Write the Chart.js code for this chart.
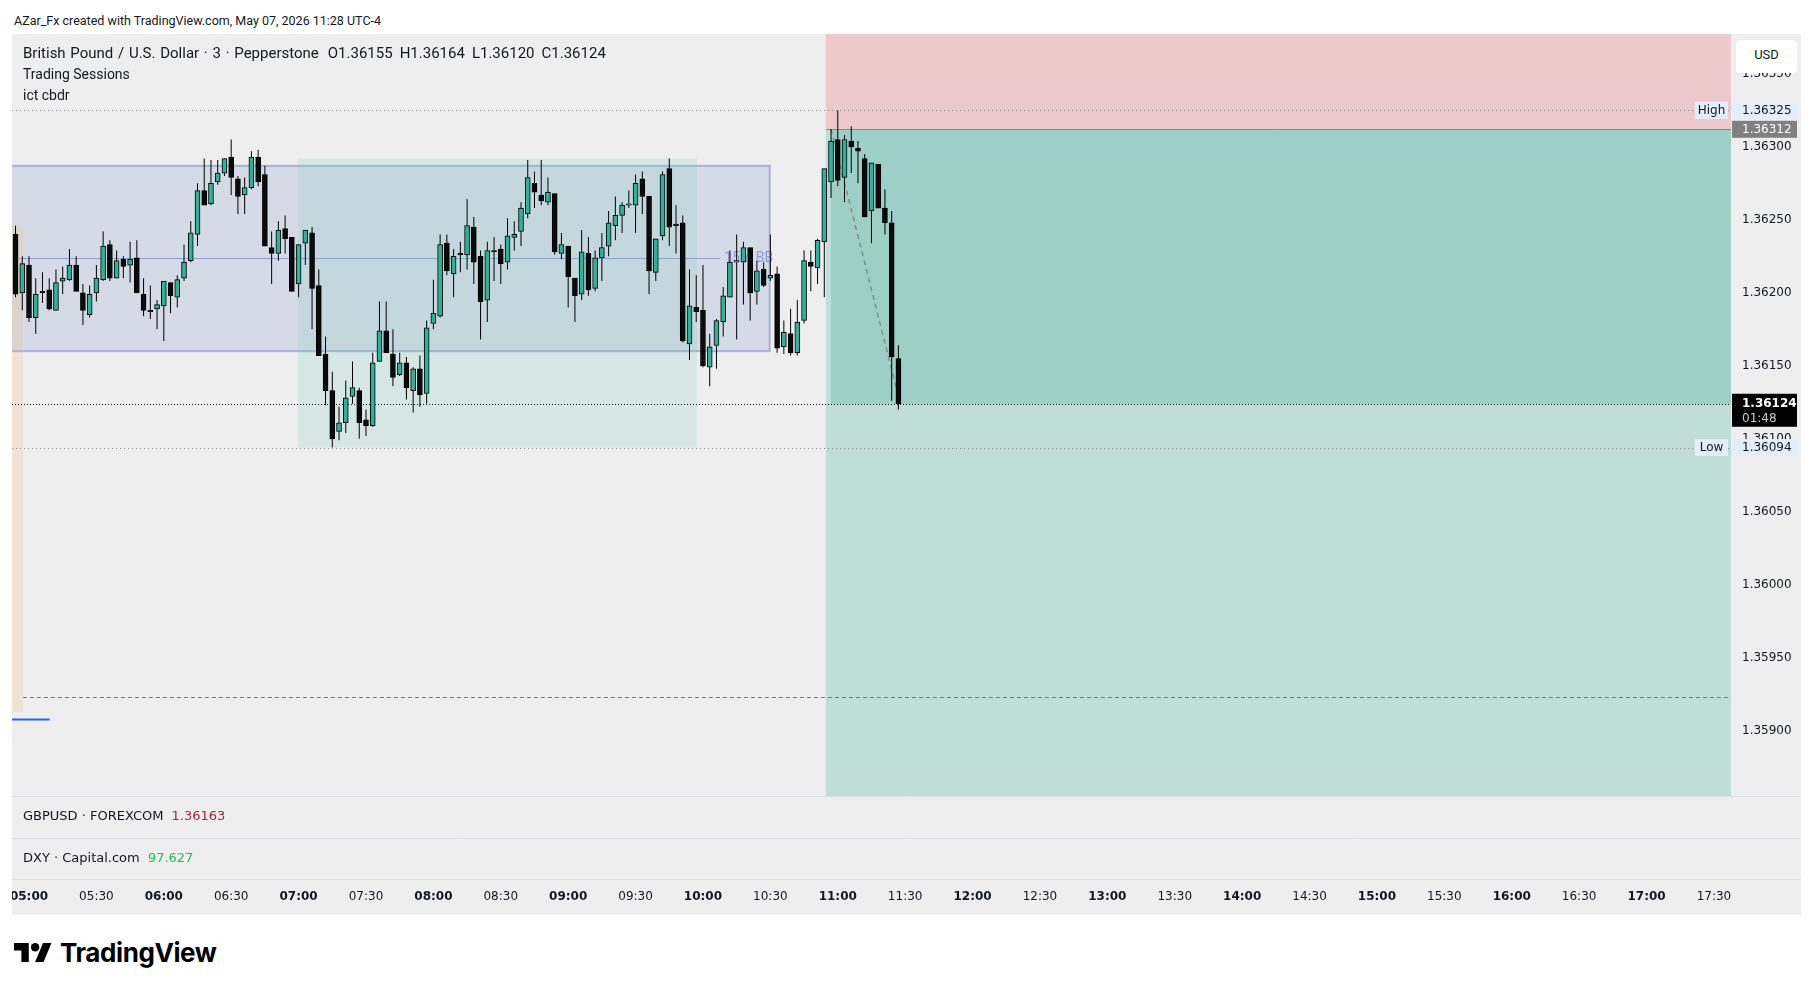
<!DOCTYPE html>
<html lang="en">
<head>
<meta charset="UTF-8">
<title>GBPUSD 3m - TradingView snapshot</title>
<script src="https://cdn.jsdelivr.net/npm/chart.js@4.4.1/dist/chart.umd.min.js"></script>
<style>
  html, body { margin: 0; padding: 0; background: #fff; }
  body { width: 1815px; height: 991px; position: relative; overflow: hidden;
         font-family: Roboto, "Noto Sans", sans-serif; color: #131722; }
  .note { position: absolute; left: 14px; top: 12px; font-size: 12.5px; line-height: 18px; }
  #panel { position: absolute; left: 12px; top: 34px; width: 1789px; height: 881px; background: #eeeeee; }
  #chartBox { position: absolute; left: 0; top: 0; width: 1789px; height: 881px; }
  .legend { position: absolute; left: 11px; top: 9px; font-size: 14px; line-height: 21px; }
  .legend .title { font-size: 15px; word-spacing: 1px; }
  .legend .ohlc { margin-left: 9px; }
  .legend .ohlc span { margin-right: 7px; }
  .usd { position: absolute; left: 1724px; top: 6px; width: 61px; height: 33px; background: #fff;
         border-radius: 4px; font-size: 13px; line-height: 29px; text-align: center; }
  .pane { position: absolute; left: 11px; font-family: "DejaVu Sans", sans-serif; font-size: 13px; line-height: 18px; }
  .pane span { margin-left: 4px; }
  .brand { position: absolute; left: 14px; top: 937px; height: 30px; display: flex; align-items: center; }
  .brand span { margin-left: 8px; font-family: Inter, Roboto, sans-serif; font-size: 26px; font-weight: 700; color: #000; letter-spacing: -0.4px; }
</style>
</head>
<body>

<div class="note">AZar_Fx created with TradingView.com, May 07, 2026 11:28 UTC-4</div>

<div id="panel">
    <div id="chartBox"><canvas id="chart"></canvas></div>
    <div class="legend">
        <div class="title">British Pound / U.S. Dollar · 3 · Pepperstone<span class="ohlc"><span>O1.36155</span><span>H1.36164</span><span>L1.36120</span><span>C1.36124</span></span></div>
        <div>Trading Sessions</div>
        <div>ict cbdr</div>
    </div>
    <div class="usd">USD</div>
    <div class="pane" style="top:773px">GBPUSD · FOREXCOM <span style="color:#a3283a">1.36163</span></div>
    <div class="pane" style="top:815px">DXY · Capital.com <span style="color:#1fbf5a">97.627</span></div>
</div>

<div class="brand">
    <svg width="38" height="19" viewBox="0 4 36 18"><path d="M14 22H7V11H0V4h14v18zM28 22h-8l7.5-18h8L28 22z" fill="#000"/><circle cx="20" cy="8" r="4" fill="#000"/></svg>
    <span>TradingView</span>
</div>

<script>
// 3 minute bars, first one at 04:54 (minutes are counted from 05:00)
const firstBarMinute = -6;
const barMinutes = 3;

const opens = [
    1.36240,1.36200,1.36219,1.36183,1.36201,1.36202,1.36188,1.36208,1.36209,1.36219,1.36200,1.36185,
    1.36200,1.36209,1.36233,1.36210,1.36223,1.36219,1.36224,1.36199,1.36188,1.36189,
    1.36191,1.36207,1.36197,1.36210,1.36222,1.36240,1.36270,1.36261,1.36276,1.36282,
    1.36293,1.36278,1.36267,1.36272,1.36293,1.36281,1.36231,1.36227,1.36244,1.36238,
    1.36206,1.36234,1.36241,1.36205,1.36158,1.36133,1.36105,1.36111,1.36129,1.36133,
    1.36113,1.36109,1.36153,1.36174,1.36158,1.36144,1.36152,1.36133,1.36148,1.36131,
    1.36179,1.36184,1.36234,1.36213,1.36227,1.36226,1.36245,1.36225,1.36195,1.36229,
    1.36230,1.36221,1.36238,1.36242,1.36254,1.36275,1.36267,1.36262,1.36268,1.36227,
    1.36232,1.36210,1.36199,1.36227,1.36203,1.36224,1.36232,1.36246,1.36253,1.36260,
    1.36260,1.36278,1.36266,1.36214,1.36239,1.36285,1.36247,1.36248,1.36165,1.36190,
    1.36188,1.36149,1.36164,1.36180,1.36197,1.36221,1.36221,1.36231,1.36201,1.36216,
    1.36210,1.36213,1.36163,1.36172,1.36159,1.36181,1.36221,1.36217,1.36235,1.36276,
    1.36305,1.36279,1.36304,1.36299,1.36292,1.36256,1.36288,1.36258,1.36248,1.36155
];
const highs = [
    1.36246,1.36225,1.36225,1.36210,1.36214,1.36210,1.36216,1.36218,1.36230,1.36225,1.36206,1.36205,
    1.36219,1.36242,1.36236,1.36229,1.36225,1.36235,1.36236,1.36210,1.36205,1.36195,
    1.36208,1.36207,1.36212,1.36233,1.36249,1.36275,1.36292,1.36291,1.36291,1.36292,
    1.36305,1.36280,1.36279,1.36297,1.36298,1.36287,1.36242,1.36249,1.36253,1.36238,
    1.36233,1.36243,1.36245,1.36216,1.36170,1.36146,1.36122,1.36140,1.36153,1.36135,
    1.36120,1.36159,1.36194,1.36194,1.36175,1.36159,1.36156,1.36149,1.36157,1.36181,
    1.36209,1.36240,1.36240,1.36230,1.36235,1.36264,1.36252,1.36229,1.36235,1.36238,
    1.36233,1.36251,1.36249,1.36262,1.36291,1.36283,1.36291,1.36279,1.36268,1.36241,
    1.36232,1.36210,1.36243,1.36238,1.36229,1.36241,1.36256,1.36266,1.36262,1.36270,
    1.36281,1.36283,1.36266,1.36237,1.36283,1.36292,1.36260,1.36253,1.36216,1.36212,
    1.36219,1.36172,1.36182,1.36204,1.36229,1.36240,1.36235,1.36231,1.36222,1.36221,
    1.36240,1.36218,1.36181,1.36189,1.36195,1.36229,1.36229,1.36237,1.36285,1.36312,
    1.36325,1.36308,1.36314,1.36304,1.36295,1.36289,1.36288,1.36271,1.36256,1.36164
];
const lows = [
    1.36197,1.36188,1.36180,1.36172,1.36193,1.36188,1.36188,1.36199,1.36208,1.36201,1.36178,1.36183,
    1.36194,1.36208,1.36208,1.36210,1.36210,1.36207,1.36200,1.36184,1.36182,1.36175,
    1.36167,1.36186,1.36190,1.36208,1.36221,1.36232,1.36260,1.36260,1.36274,1.36280,
    1.36267,1.36254,1.36254,1.36271,1.36273,1.36232,1.36206,1.36222,1.36227,1.36201,
    1.36197,1.36219,1.36175,1.36157,1.36123,1.36094,1.36099,1.36104,1.36124,1.36100,
    1.36102,1.36108,1.36153,1.36159,1.36136,1.36143,1.36127,1.36118,1.36122,1.36124,
    1.36175,1.36183,1.36212,1.36197,1.36214,1.36216,1.36206,1.36168,1.36180,1.36208,
    1.36206,1.36216,1.36229,1.36232,1.36251,1.36258,1.36260,1.36260,1.36226,1.36223,
    1.36190,1.36180,1.36195,1.36198,1.36201,1.36208,1.36225,1.36236,1.36241,1.36258,
    1.36241,1.36254,1.36199,1.36208,1.36236,1.36232,1.36227,1.36166,1.36154,1.36180,
    1.36149,1.36136,1.36148,1.36170,1.36197,1.36168,1.36192,1.36181,1.36192,1.36204,
    1.36208,1.36159,1.36158,1.36157,1.36157,1.36179,1.36201,1.36206,1.36197,1.36265,
    1.36273,1.36262,1.36282,1.36275,1.36252,1.36234,1.36258,1.36240,1.36126,1.36120
];
const closes = [
    1.36199,1.36220,1.36183,1.36199,1.36200,1.36189,1.36207,1.36210,1.36219,1.36201,1.36188,1.36199,
    1.36210,1.36232,1.36210,1.36222,1.36218,1.36223,1.36200,1.36188,1.36187,1.36192,
    1.36208,1.36198,1.36209,1.36221,1.36241,1.36270,1.36260,1.36275,1.36282,1.36292,
    1.36279,1.36266,1.36272,1.36293,1.36276,1.36232,1.36227,1.36243,1.36237,1.36201,
    1.36233,1.36243,1.36203,1.36157,1.36133,1.36100,1.36111,1.36128,1.36135,1.36111,
    1.36109,1.36152,1.36174,1.36159,1.36142,1.36152,1.36135,1.36148,1.36130,1.36176,
    1.36186,1.36233,1.36215,1.36225,1.36226,1.36246,1.36221,1.36194,1.36229,1.36228,
    1.36220,1.36239,1.36240,1.36258,1.36279,1.36269,1.36263,1.36269,1.36228,1.36233,
    1.36211,1.36198,1.36228,1.36202,1.36224,1.36231,1.36248,1.36253,1.36260,1.36261,
    1.36275,1.36266,1.36215,1.36237,1.36281,1.36245,1.36246,1.36167,1.36191,1.36187,
    1.36150,1.36163,1.36181,1.36198,1.36221,1.36222,1.36231,1.36200,1.36215,1.36205,
    1.36212,1.36162,1.36173,1.36159,1.36180,1.36222,1.36218,1.36236,1.36285,1.36304,
    1.36277,1.36305,1.36300,1.36297,1.36252,1.36289,1.36258,1.36248,1.36156,1.36124
];

const timeLabels = ['05:00','05:30','06:00','06:30','07:00','07:30','08:00','08:30','09:00','09:30',
    '10:00','10:30','11:00','11:30','12:00','12:30','13:00','13:30','14:00','14:30',
    '15:00','15:30','16:00','16:30','17:00','17:30'];

// drawings on the chart: [start minute, end minute, low, high]
const asiaBox = [-30, -2.7, 1.35913, 1.36246];
const cbdrBox = [-30, 329.7, 1.36160, 1.36287];
const cbdrMid = 1.36224;
const nySession = [119.7, 297.3, 1.36094, 1.36292];
const entryPrice = 1.36312;
const positionStart = 354.7;
const fillStart = 357;
const tradeLine = [[357, 1.36312], [387.5, 1.36126]];
const dayHigh = 1.36325;
const dayLow = 1.36094;
const lastPrice = 1.36124;
const dashedLevel = 1.35923;
const shortLevel = [-30, 9.2, 1.35908];

// layout (canvas px) and view range
const MAIN_BOTTOM = 762;
const xMin = -7.567, xMax = 757.6;
const yMin = 1.3579849, yMax = 1.3637726;

const UP = '#2db39a', DOWN = '#0b0b0b';
const FONT = 'Roboto, "Noto Sans", sans-serif';
const AXIS_FONT = '"DejaVu Sans", sans-serif';

const xs = opens.map((o, i) => firstBarMinute + i * barMinutes);
const bodies = opens.map((o, i) => ({ x: xs[i], y: [o, closes[i]] }));
const wicks = highs.map((h, i) => ({ x: xs[i], y: [lows[i], h] }));
const bodyColors = opens.map((o, i) => closes[i] > o ? UP : DOWN);

function hLine(ctx, x0, x1, yy, color, dash, width) {
    ctx.save();
    ctx.strokeStyle = color;
    ctx.lineWidth = width || 1;
    ctx.setLineDash(dash || []);
    ctx.beginPath();
    ctx.moveTo(x0, Math.round(yy) + 0.5);
    ctx.lineTo(x1, Math.round(yy) + 0.5);
    ctx.stroke();
    ctx.restore();
}

const overlay = {
    id: 'overlay',
    beforeDatasetsDraw(chart) {
        const { ctx, chartArea: a, scales: { x, y } } = chart;
        const X = v => x.getPixelForValue(v), Y = v => y.getPixelForValue(v);
        const box = b => ctx.fillRect(X(b[0]), Y(b[3]), X(b[1]) - X(b[0]), Y(b[2]) - Y(b[3]));

        ctx.save();
        ctx.beginPath();
        ctx.rect(a.left, a.top, a.right - a.left, MAIN_BOTTOM - a.top);
        ctx.clip();

        // cbdr box
        ctx.fillStyle = 'rgba(140,160,210,0.25)';
        box(cbdrBox);
        ctx.strokeStyle = 'rgba(125,145,205,0.6)';
        ctx.lineWidth = 2;
        ctx.strokeRect(X(cbdrBox[0]), Y(cbdrBox[3]), X(cbdrBox[1]) - X(cbdrBox[0]), Y(cbdrBox[2]) - Y(cbdrBox[3]));
        hLine(ctx, a.left, X(307.6), Y(cbdrMid), 'rgba(110,135,210,0.7)');
        ctx.fillStyle = 'rgba(80,110,220,0.6)';
        ctx.font = '14px ' + FONT;
        ctx.textBaseline = 'middle';
        ctx.textAlign = 'left';
        ctx.fillText('15m BB', X(309.5), Y(cbdrMid) + 1);

        // asian session strip
        ctx.fillStyle = 'rgba(250,180,100,0.2)';
        box(asiaBox);

        // new york session
        ctx.fillStyle = 'rgba(120,200,180,0.2)';
        box(nySession);

        // long position tool
        const px0 = X(positionStart), ye = Y(entryPrice);
        ctx.fillStyle = 'rgba(242,54,69,0.2)';
        ctx.fillRect(px0, a.top, a.right - px0, ye - a.top);
        ctx.fillStyle = 'rgba(8,153,129,0.2)';
        ctx.fillRect(px0, ye, a.right - px0, MAIN_BOTTOM - ye);
        ctx.fillRect(X(fillStart), ye, a.right - X(fillStart), Y(lastPrice) - ye);
        hLine(ctx, px0, a.right, ye - 0.5, '#8a8a8a');

        // level lines
        hLine(ctx, a.left, a.right, Y(dayHigh), '#8c8c8c', [1, 3]);
        hLine(ctx, a.left, a.right, Y(dayLow), '#8c8c8c', [1, 3]);
        hLine(ctx, a.left, a.right, Y(lastPrice), '#131722', [1, 2]);
        hLine(ctx, X(asiaBox[1]), a.right, Y(dashedLevel), '#5b72e6', [4, 3]);
        hLine(ctx, X(shortLevel[0]), X(shortLevel[1]), Y(shortLevel[2]), '#2962ff', [], 2);

        // trade line
        ctx.strokeStyle = 'rgba(120,120,120,0.75)';
        ctx.lineWidth = 1.5;
        ctx.setLineDash([5, 4]);
        ctx.beginPath();
        ctx.moveTo(X(tradeLine[0][0]), Y(tradeLine[0][1]));
        ctx.lineTo(X(tradeLine[1][0]), Y(tradeLine[1][1]));
        ctx.stroke();
        ctx.restore();
    },
    afterDraw(chart) {
        const { ctx, chartArea: a, scales: { y } } = chart;
        const Y = v => y.getPixelForValue(v);
        const w = chart.width;

        // pane separators
        [MAIN_BOTTOM, 804, a.bottom].forEach(s => hLine(ctx, 0, w, s, '#dcdfe6'));

        ctx.save();
        ctx.font = '12px ' + AXIS_FONT;
        ctx.textBaseline = 'middle';
        const tag = (price, text, bg, fg) => {
            const yy = Y(price);
            ctx.fillStyle = bg;
            ctx.fillRect(a.right + 1, yy - 8.5, w - 5 - a.right, 17);
            ctx.fillStyle = fg;
            ctx.textAlign = 'left';
            ctx.fillText(text, a.right + 11, yy + 0.5);
        };
        const side = (price, text) => {
            const yy = Y(price);
            ctx.fillStyle = '#e3eefb';
            ctx.fillRect(a.right - 36, yy - 8.5, 33, 17);
            ctx.fillStyle = '#131722';
            ctx.textAlign = 'center';
            ctx.fillText(text, a.right - 19.5, yy + 0.5);
        };
        tag(dayHigh, '1.36325', '#e3eefb', '#131722');
        tag(entryPrice, '1.36312', '#808080', '#ffffff');
        tag(dayLow, '1.36094', '#e3eefb', '#131722');
        side(dayHigh, 'High');
        side(dayLow, 'Low');

        // last price with bar countdown
        const yl = Y(lastPrice);
        ctx.fillStyle = '#000';
        ctx.fillRect(a.right + 1, yl - 10, w - 5 - a.right, 33);
        ctx.textAlign = 'left';
        ctx.fillStyle = '#fff';
        ctx.font = 'bold 12px ' + AXIS_FONT;
        ctx.fillText('1.36124', a.right + 11, yl + 0.5);
        ctx.fillStyle = '#c8c8c8';
        ctx.font = '12px ' + AXIS_FONT;
        ctx.fillText('01:48', a.right + 11, yl + 15.5);
        ctx.restore();
    }
};

new Chart(document.getElementById('chart'), {
    type: 'bar',
    data: {
        datasets: [
            {
                data: bodies,
                backgroundColor: bodyColors,
                borderColor: '#000',
                borderWidth: 1,
                borderSkipped: false,
                barThickness: 5,
                minBarLength: 1,
                grouped: false,
                order: 1
            },
            {
                data: wicks,
                backgroundColor: '#000',
                borderWidth: 0,
                barThickness: 1,
                inflateAmount: 0,
                grouped: false,
                order: 2
            }
        ]
    },
    options: {
        responsive: true,
        maintainAspectRatio: false,
        animation: false,
        layout: { padding: 0 },
        plugins: { legend: { display: false }, tooltip: { enabled: false } },
        scales: {
            x: {
                type: 'linear',
                min: xMin,
                max: xMax,
                offset: false,
                grid: { display: false, drawTicks: false },
                border: { display: false },
                ticks: {
                    stepSize: 30,
                    includeBounds: false,
                    autoSkip: false,
                    maxRotation: 0,
                    padding: 11,
                    color: '#131722',
                    font: c => ({ size: 12, family: AXIS_FONT, weight: c.tick && c.tick.value % 60 === 0 ? 'bold' : 'normal' }),
                    callback: v => timeLabels[Math.round(v / 30)]
                },
                afterFit: s => { s.height = 36; s.paddingLeft = 0; s.paddingRight = 0; }
            },
            y: {
                type: 'linear',
                position: 'right',
                min: yMin,
                max: yMax,
                grid: { display: false, drawTicks: false },
                border: { display: false },
                ticks: {
                    stepSize: 0.0005,
                    includeBounds: false,
                    autoSkip: false,
                    padding: 11,
                    color: '#131722',
                    font: { size: 12, family: AXIS_FONT },
                    callback: v => v.toFixed(5)
                },
                afterBuildTicks: s => { s.ticks = s.ticks.filter(t => t.value > 1.3587); },
                afterFit: s => { s.width = 70; s.paddingTop = 0; s.paddingBottom = 0; }
            }
        }
    },
    plugins: [overlay]
});
</script>
</body>
</html>
